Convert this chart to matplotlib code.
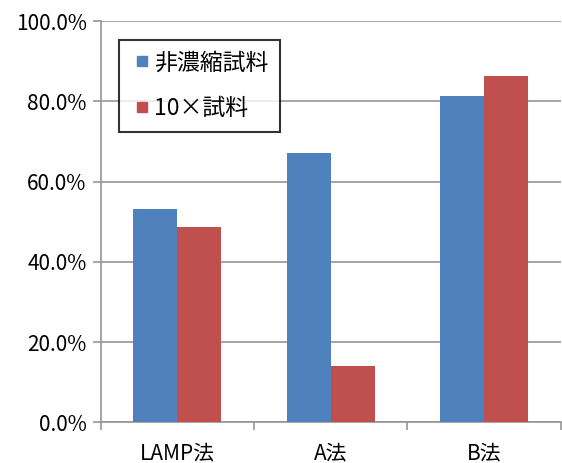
import matplotlib
matplotlib.use('Agg')
import matplotlib.pyplot as plt
from matplotlib.ticker import FuncFormatter
from matplotlib.lines import Line2D
import numpy as np

plt.rcParams['font.family'] = ['Noto Sans CJK JP', 'DejaVu Sans']

# --- data ---
categories = ['LAMP法', 'A法', 'B法']
series_names = ['非濃縮試料', '10×試料']
plain = [53.2, 67.1, 81.4]
conc10 = [48.7, 14.1, 86.3]
colors = ['#4F81BD', '#C0504D']

fig = plt.figure(figsize=(5.62, 4.63), dpi=100)
ax = fig.add_axes([0.179, 0.0875, 0.819, 0.867])

x = np.arange(len(categories))
w = 0.287
ax.bar(x - w / 2, plain, w, color=colors[0], label=series_names[0], zorder=3)
ax.bar(x + w / 2, conc10, w, color=colors[1], label=series_names[1], zorder=3)

ax.set_xlim(-0.5, len(categories) - 0.5)
ax.set_ylim(0, 100)
ax.set_yticks(np.arange(0, 101, 20))
ax.yaxis.set_major_formatter(FuncFormatter(lambda v, p: f'{v:.1f}%'))
ax.grid(axis='y', color='#969696', linewidth=1.2, zorder=0)

# category boundaries as ticks, labels at centres
ax.set_xticks(np.arange(-0.5, len(categories), 1.0))
ax.set_xticklabels([])
ax.set_xticks(x, minor=True)
ax.set_xticklabels(categories, minor=True)
ax.tick_params(axis='x', which='minor', length=0, pad=14, labelsize=15)
ax.tick_params(axis='x', which='major', length=6, color='#969696', width=1.2)
ax.tick_params(axis='y', length=6, color='#969696', width=1.2, labelsize=15, pad=4)

for s in ['top', 'right']:
    ax.spines[s].set_visible(False)
for s in ['left', 'bottom']:
    ax.spines[s].set_color('#969696')
    ax.spines[s].set_linewidth(1.2)

handles = [Line2D([], [], linestyle='none', marker='s', markersize=7.2,
                  markerfacecolor=c, markeredgecolor=c) for c in colors]
leg = ax.legend(handles, series_names, loc='upper left',
                bbox_to_anchor=(0.0398, 0.953), fontsize=16.5,
                frameon=True, fancybox=False, edgecolor='black',
                handlelength=1.05, handletextpad=0.0,
                labelspacing=1.0, borderpad=0.5, borderaxespad=0)
leg.get_frame().set_linewidth(1.5)

fig.savefig('out.png', dpi=100)
